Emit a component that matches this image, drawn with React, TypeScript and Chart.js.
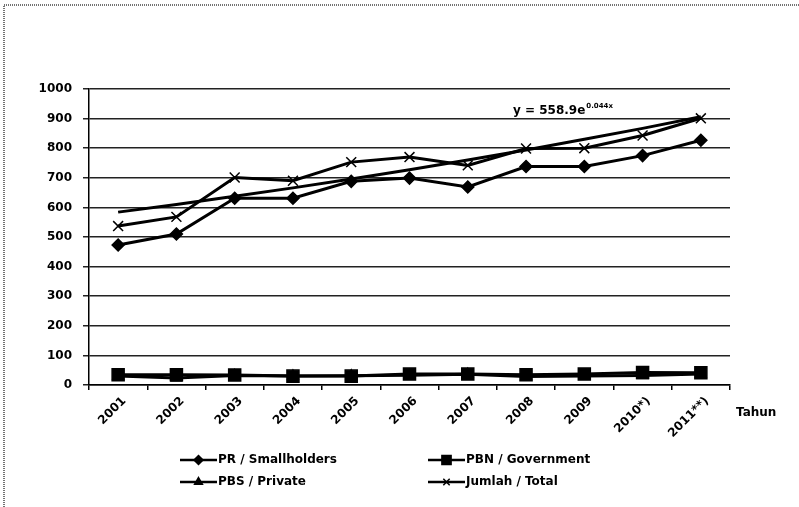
import React, { useEffect, useRef } from "react";
import { Chart, registerables } from "chart.js";
import { drawPoint } from "chart.js/helpers";

Chart.register(...registerables);

const years = ["2001", "2002", "2003", "2004", "2005", "2006", "2007", "2008", "2009", "2010*)", "2011**)"];
const smallholders = [473, 510, 631, 631, 688, 699, 669, 738, 738, 775, 827];
const government = [35, 35, 34, 30, 30, 37, 37, 35, 37, 42, 41];
const privateEst = [30, 24, 32, 30, 31, 33, 36, 29, 30, 32, 37];
const total = [537, 568, 701, 690, 753, 770, 742, 799, 800, 843, 901];
const trend = [584, 610, 638, 666, 696, 727, 760, 794, 830, 867, 906];
const yTicks = [0, 100, 200, 300, 400, 500, 600, 700, 800, 900, 1000];
const seriesNames = ["PR / Smallholders", "PBN / Government", "PBS / Private", "Jumlah / Total"];
const axisTitle = "Tahun";
const equationMain = "y = 558.9e";
const equationExp = "0.044x";

const FONT = "'DejaVu Sans', sans-serif";

const decorPlugin = {
  id: "decor",
  afterDraw(chart: any) {
    const ctx = chart.ctx as CanvasRenderingContext2D;
    ctx.save();
    // frame (top and left edges)
    ctx.strokeStyle = "#444";
    ctx.lineWidth = 1.5;
    ctx.setLineDash([1, 1]);
    ctx.beginPath();
    ctx.moveTo(4, 507);
    ctx.lineTo(4, 5);
    ctx.lineTo(799, 5);
    ctx.stroke();
    ctx.setLineDash([]);

    // axis title
    ctx.fillStyle = "#000";
    ctx.font = `bold 12px ${FONT}`;
    ctx.textAlign = "left";
    ctx.textBaseline = "middle";
    ctx.fillText(axisTitle, 736, 413);

    // equation
    ctx.font = `bold 12px ${FONT}`;
    ctx.fillText(equationMain, 513, 111);
    const w = ctx.measureText(equationMain).width;
    ctx.font = `bold 7px ${FONT}`;
    ctx.fillText(equationExp, 513 + w + 1, 106);

    // legend
    const pos = [
      [180, 460],
      [428, 460],
      [180, 482],
      [428, 482],
    ];
    for (let i = 0; i < 4; i++) {
      const ds = chart.data.datasets[i];
      const [x0, y] = pos[i];
      ctx.strokeStyle = "#000";
      ctx.fillStyle = "#000";
      ctx.lineWidth = 2.5;
      ctx.beginPath();
      ctx.moveTo(x0, y);
      ctx.lineTo(x0 + 37, y);
      ctx.stroke();
      ctx.lineWidth = 1.5;
      drawPoint(
        ctx,
        { pointStyle: ds.pointStyle, radius: ds.pointStyle === "rect" ? 6.5 : 4.5, rotation: 0, borderWidth: 1.5 } as any,
        x0 + 18.5,
        y
      );
      ctx.fillStyle = "#000";
      ctx.font = `bold 12px ${FONT}`;
      ctx.textAlign = "left";
      ctx.textBaseline = "middle";
      ctx.fillText(ds.label, x0 + 38, y);
    }
    ctx.restore();
  },
};

export default function App() {
  const ref = useRef<HTMLCanvasElement | null>(null);
  useEffect(() => {
    document.body.style.margin = "0";
    const canvas = ref.current!;
    const line = (label: string, data: number[], pointStyle: any, radius: number) => ({
      label,
      data,
      borderColor: "#000",
      backgroundColor: "#000",
      pointBackgroundColor: "#000",
      pointBorderColor: "#000",
      borderWidth: 3,
      pointStyle,
      pointRadius: radius,
      pointBorderWidth: 1.5,
      tension: 0,
    });
    const chart = new Chart(canvas, {
      type: "line",
      data: {
        labels: years,
        datasets: [
          line(seriesNames[0], smallholders, "rectRot", 6),
          line(seriesNames[1], government, "rect", 8.5),
          line(seriesNames[2], privateEst, "triangle", 6),
          line(seriesNames[3], total, "crossRot", 7),
          { ...line("Trend", trend, false, 0), borderWidth: 3 },
        ],
      },
      options: {
        animation: false,
        responsive: false,
        devicePixelRatio: 1,
        layout: { padding: { left: 0, top: 89, right: 69, bottom: 62 } },
        plugins: { legend: { display: false }, tooltip: { enabled: false } },
        scales: {
          x: {
            type: "category",
            offset: true,
            grid: {
              display: true,
              drawOnChartArea: false,
              drawTicks: true,
              tickLength: 5,
              offset: true,
              color: "#000",
              lineWidth: 1.5,
            },
            border: { display: true, color: "#000", width: 1.5 },
            ticks: {
              color: "#000",
              font: { family: FONT, size: 12, weight: "bold" },
              maxRotation: 45,
              minRotation: 45,
              padding: 4,
              labelOffset: 6,
              autoSkip: false,
            },
            afterFit(scale: any) {
              scale.height = 60;
            },
          },
          y: {
            min: 0,
            max: 1000,
            afterBuildTicks(scale: any) {
              scale.ticks = yTicks.map((v) => ({ value: v }));
            },
            grid: {
              color: "#222",
              lineWidth: 1.5,
              drawTicks: true,
              tickLength: 6,
            },
            border: { display: true, color: "#000", width: 1.5 },
            ticks: {
              color: "#000",
              font: { family: FONT, size: 12, weight: "bold" },
              padding: 11,
              callback: (v: any) => String(v),
            },
            afterFit(scale: any) {
              scale.width = 89;
            },
          },
        },
      },
      plugins: [decorPlugin],
    } as any);
    return () => chart.destroy();
  }, []);
  return (
    <div style={{ width: 799, height: 507, background: "#fff" }}>
      <canvas ref={ref} width={799} height={507} style={{ display: "block", width: 799, height: 507 }} />
    </div>
  );
}
